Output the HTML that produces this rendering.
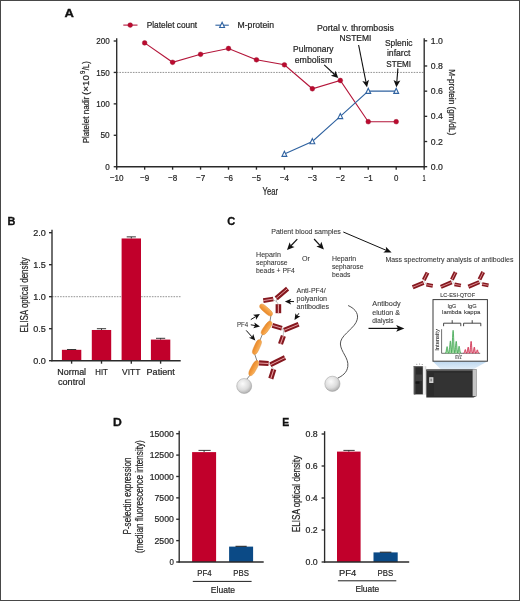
<!DOCTYPE html>
<html><head><meta charset="utf-8"><style>
html,body{margin:0;padding:0;background:#fff;}
body{width:520px;height:601px;overflow:hidden;}
svg{display:block;font-family:"Liberation Sans", sans-serif;will-change:transform;}
</style></head><body>
<svg width="520" height="601" viewBox="0 0 520 601">
<rect x="0" y="0" width="520" height="601" fill="#fff"/>
<text x="64.40" y="17.40" font-size="10.5" font-weight="bold" fill="#111" stroke="#111" stroke-width="0.3" textLength="9.40" lengthAdjust="spacingAndGlyphs" >A</text>
<line x1="116.70" y1="72.43" x2="424.20" y2="72.43" stroke="#777" stroke-width="0.8" stroke-dasharray="1.6 1.1"/>
<line x1="116.70" y1="38.30" x2="116.70" y2="167.30" stroke="#2a2a2a" stroke-width="1.35" />
<line x1="116.10" y1="166.70" x2="424.80" y2="166.70" stroke="#2a2a2a" stroke-width="1.35" />
<line x1="424.20" y1="38.30" x2="424.20" y2="167.30" stroke="#2a2a2a" stroke-width="1.35" />
<line x1="113.70" y1="166.72" x2="116.70" y2="166.72" stroke="#2a2a2a" stroke-width="1.35" />
<text x="105.20" y="169.82" font-size="9.4" font-weight="normal" fill="#262626" stroke="#262626" stroke-width="0.22" textLength="4.50" lengthAdjust="spacingAndGlyphs" >0</text>
<line x1="113.70" y1="135.29" x2="116.70" y2="135.29" stroke="#2a2a2a" stroke-width="1.35" />
<text x="100.50" y="138.39" font-size="9.4" font-weight="normal" fill="#262626" stroke="#262626" stroke-width="0.22" textLength="9.20" lengthAdjust="spacingAndGlyphs" >50</text>
<line x1="113.70" y1="103.86" x2="116.70" y2="103.86" stroke="#2a2a2a" stroke-width="1.35" />
<text x="96.20" y="106.96" font-size="9.4" font-weight="normal" fill="#262626" stroke="#262626" stroke-width="0.22" textLength="13.50" lengthAdjust="spacingAndGlyphs" >100</text>
<line x1="113.70" y1="72.43" x2="116.70" y2="72.43" stroke="#2a2a2a" stroke-width="1.35" />
<text x="96.20" y="75.53" font-size="9.4" font-weight="normal" fill="#262626" stroke="#262626" stroke-width="0.22" textLength="13.50" lengthAdjust="spacingAndGlyphs" >150</text>
<line x1="113.70" y1="41.00" x2="116.70" y2="41.00" stroke="#2a2a2a" stroke-width="1.35" />
<text x="96.20" y="44.10" font-size="9.4" font-weight="normal" fill="#262626" stroke="#262626" stroke-width="0.22" textLength="13.50" lengthAdjust="spacingAndGlyphs" >200</text>
<line x1="116.70" y1="166.70" x2="116.70" y2="169.70" stroke="#2a2a2a" stroke-width="1.35" />
<text x="109.80" y="181.00" font-size="9.4" font-weight="normal" fill="#262626" stroke="#262626" stroke-width="0.22" textLength="13.80" lengthAdjust="spacingAndGlyphs" >−10</text>
<line x1="144.65" y1="166.70" x2="144.65" y2="169.70" stroke="#2a2a2a" stroke-width="1.35" />
<text x="140.05" y="181.00" font-size="9.4" font-weight="normal" fill="#262626" stroke="#262626" stroke-width="0.22" textLength="9.20" lengthAdjust="spacingAndGlyphs" >−9</text>
<line x1="172.60" y1="166.70" x2="172.60" y2="169.70" stroke="#2a2a2a" stroke-width="1.35" />
<text x="168.00" y="181.00" font-size="9.4" font-weight="normal" fill="#262626" stroke="#262626" stroke-width="0.22" textLength="9.20" lengthAdjust="spacingAndGlyphs" >−8</text>
<line x1="200.55" y1="166.70" x2="200.55" y2="169.70" stroke="#2a2a2a" stroke-width="1.35" />
<text x="195.95" y="181.00" font-size="9.4" font-weight="normal" fill="#262626" stroke="#262626" stroke-width="0.22" textLength="9.20" lengthAdjust="spacingAndGlyphs" >−7</text>
<line x1="228.50" y1="166.70" x2="228.50" y2="169.70" stroke="#2a2a2a" stroke-width="1.35" />
<text x="223.90" y="181.00" font-size="9.4" font-weight="normal" fill="#262626" stroke="#262626" stroke-width="0.22" textLength="9.20" lengthAdjust="spacingAndGlyphs" >−6</text>
<line x1="256.45" y1="166.70" x2="256.45" y2="169.70" stroke="#2a2a2a" stroke-width="1.35" />
<text x="251.85" y="181.00" font-size="9.4" font-weight="normal" fill="#262626" stroke="#262626" stroke-width="0.22" textLength="9.20" lengthAdjust="spacingAndGlyphs" >−5</text>
<line x1="284.40" y1="166.70" x2="284.40" y2="169.70" stroke="#2a2a2a" stroke-width="1.35" />
<text x="279.80" y="181.00" font-size="9.4" font-weight="normal" fill="#262626" stroke="#262626" stroke-width="0.22" textLength="9.20" lengthAdjust="spacingAndGlyphs" >−4</text>
<line x1="312.35" y1="166.70" x2="312.35" y2="169.70" stroke="#2a2a2a" stroke-width="1.35" />
<text x="307.75" y="181.00" font-size="9.4" font-weight="normal" fill="#262626" stroke="#262626" stroke-width="0.22" textLength="9.20" lengthAdjust="spacingAndGlyphs" >−3</text>
<line x1="340.30" y1="166.70" x2="340.30" y2="169.70" stroke="#2a2a2a" stroke-width="1.35" />
<text x="335.70" y="181.00" font-size="9.4" font-weight="normal" fill="#262626" stroke="#262626" stroke-width="0.22" textLength="9.20" lengthAdjust="spacingAndGlyphs" >−2</text>
<line x1="368.25" y1="166.70" x2="368.25" y2="169.70" stroke="#2a2a2a" stroke-width="1.35" />
<text x="363.65" y="181.00" font-size="9.4" font-weight="normal" fill="#262626" stroke="#262626" stroke-width="0.22" textLength="9.20" lengthAdjust="spacingAndGlyphs" >−1</text>
<line x1="396.20" y1="166.70" x2="396.20" y2="169.70" stroke="#2a2a2a" stroke-width="1.35" />
<text x="394.00" y="181.00" font-size="9.4" font-weight="normal" fill="#262626" stroke="#262626" stroke-width="0.22" textLength="4.40" lengthAdjust="spacingAndGlyphs" >0</text>
<line x1="424.15" y1="166.70" x2="424.15" y2="169.70" stroke="#2a2a2a" stroke-width="1.35" />
<text x="422.55" y="181.00" font-size="9.4" font-weight="normal" fill="#262626" stroke="#262626" stroke-width="0.22" textLength="3.20" lengthAdjust="spacingAndGlyphs" >1</text>
<line x1="424.20" y1="166.70" x2="427.20" y2="166.70" stroke="#2a2a2a" stroke-width="1.35" />
<text x="430.80" y="169.80" font-size="9.4" font-weight="normal" fill="#262626" stroke="#262626" stroke-width="0.22" textLength="12.10" lengthAdjust="spacingAndGlyphs" >0.0</text>
<line x1="424.20" y1="141.52" x2="427.20" y2="141.52" stroke="#2a2a2a" stroke-width="1.35" />
<text x="430.80" y="144.62" font-size="9.4" font-weight="normal" fill="#262626" stroke="#262626" stroke-width="0.22" textLength="12.10" lengthAdjust="spacingAndGlyphs" >0.2</text>
<line x1="424.20" y1="116.34" x2="427.20" y2="116.34" stroke="#2a2a2a" stroke-width="1.35" />
<text x="430.80" y="119.44" font-size="9.4" font-weight="normal" fill="#262626" stroke="#262626" stroke-width="0.22" textLength="12.10" lengthAdjust="spacingAndGlyphs" >0.4</text>
<line x1="424.20" y1="91.16" x2="427.20" y2="91.16" stroke="#2a2a2a" stroke-width="1.35" />
<text x="430.80" y="94.26" font-size="9.4" font-weight="normal" fill="#262626" stroke="#262626" stroke-width="0.22" textLength="12.10" lengthAdjust="spacingAndGlyphs" >0.6</text>
<line x1="424.20" y1="65.98" x2="427.20" y2="65.98" stroke="#2a2a2a" stroke-width="1.35" />
<text x="430.80" y="69.08" font-size="9.4" font-weight="normal" fill="#262626" stroke="#262626" stroke-width="0.22" textLength="12.10" lengthAdjust="spacingAndGlyphs" >0.8</text>
<line x1="424.20" y1="40.80" x2="427.20" y2="40.80" stroke="#2a2a2a" stroke-width="1.35" />
<text x="430.80" y="43.90" font-size="9.4" font-weight="normal" fill="#262626" stroke="#262626" stroke-width="0.22" textLength="12.10" lengthAdjust="spacingAndGlyphs" >1.0</text>
<text x="262.60" y="194.80" font-size="10.4" font-weight="normal" fill="#262626" stroke="#262626" stroke-width="0.22" textLength="15.50" lengthAdjust="spacingAndGlyphs" >Year</text>
<g transform="translate(89.0,143.3) rotate(-90)" font-size="9.8" fill="#262626" stroke="#262626" stroke-width="0.22">
<text x="0" y="0" textLength="46.8" lengthAdjust="spacingAndGlyphs">Platelet nadir</text>
<text x="48.2" y="0" textLength="20.0" lengthAdjust="spacingAndGlyphs">(×10</text>
<text x="69.4" y="-3.9" font-size="6.6" textLength="3.4" lengthAdjust="spacingAndGlyphs">9</text>
<text x="73.0" y="0" textLength="9.0" lengthAdjust="spacingAndGlyphs">/L)</text>
</g>
<text transform="translate(449.20,102.20) rotate(90)" x="-33.00" y="0" font-size="9.5" fill="#262626" stroke="#262626" stroke-width="0.22" textLength="66.00" lengthAdjust="spacingAndGlyphs">M-protein (gm/dL)</text>
<line x1="123.30" y1="25.10" x2="137.50" y2="25.10" stroke="#b4163a" stroke-width="1.1" />
<circle cx="130.2" cy="25.1" r="2.4" fill="#bb0a2f" stroke="#950c28" stroke-width="0.4"/>
<text x="146.70" y="27.90" font-size="8.9" font-weight="normal" fill="#262626" stroke="#262626" stroke-width="0.22" textLength="50.50" lengthAdjust="spacingAndGlyphs" >Platelet count</text>
<line x1="215.40" y1="25.20" x2="228.80" y2="25.20" stroke="#2f62a0" stroke-width="1.1" />
<path d="M222.10,22.30 L224.55,27.45 L219.65,27.45 Z" fill="#fff" stroke="#2f62a0" stroke-width="1.1"/>
<text x="237.50" y="27.90" font-size="8.9" font-weight="normal" fill="#262626" stroke="#262626" stroke-width="0.22" textLength="36.50" lengthAdjust="spacingAndGlyphs" >M-protein</text>
<polyline points="144.65,42.89 172.60,62.31 200.55,54.33 228.50,48.48 256.45,59.80 284.40,64.82 312.35,88.77 340.30,80.48 368.25,121.71 396.20,121.71" fill="none" stroke="#b4163a" stroke-width="1.1"/>
<polyline points="284.40,154.11 312.35,141.52 340.30,116.34 368.25,91.16 396.20,91.16" fill="none" stroke="#2f62a0" stroke-width="1.1"/>
<circle cx="144.65" cy="42.89" r="2.4" fill="#bb0a2f" stroke="#950c28" stroke-width="0.4"/>
<circle cx="172.60" cy="62.31" r="2.4" fill="#bb0a2f" stroke="#950c28" stroke-width="0.4"/>
<circle cx="200.55" cy="54.33" r="2.4" fill="#bb0a2f" stroke="#950c28" stroke-width="0.4"/>
<circle cx="228.50" cy="48.48" r="2.4" fill="#bb0a2f" stroke="#950c28" stroke-width="0.4"/>
<circle cx="256.45" cy="59.80" r="2.4" fill="#bb0a2f" stroke="#950c28" stroke-width="0.4"/>
<circle cx="284.40" cy="64.82" r="2.4" fill="#bb0a2f" stroke="#950c28" stroke-width="0.4"/>
<circle cx="312.35" cy="88.77" r="2.4" fill="#bb0a2f" stroke="#950c28" stroke-width="0.4"/>
<circle cx="340.30" cy="80.48" r="2.4" fill="#bb0a2f" stroke="#950c28" stroke-width="0.4"/>
<circle cx="368.25" cy="121.71" r="2.4" fill="#bb0a2f" stroke="#950c28" stroke-width="0.4"/>
<circle cx="396.20" cy="121.71" r="2.4" fill="#bb0a2f" stroke="#950c28" stroke-width="0.4"/>
<path d="M284.40,151.21 L286.85,156.36 L281.95,156.36 Z" fill="#fff" stroke="#2f62a0" stroke-width="1.1"/>
<path d="M312.35,138.62 L314.80,143.77 L309.90,143.77 Z" fill="#fff" stroke="#2f62a0" stroke-width="1.1"/>
<path d="M340.30,113.44 L342.75,118.59 L337.85,118.59 Z" fill="#fff" stroke="#2f62a0" stroke-width="1.1"/>
<path d="M368.25,88.26 L370.70,93.41 L365.80,93.41 Z" fill="#fff" stroke="#2f62a0" stroke-width="1.1"/>
<path d="M396.20,88.26 L398.65,93.41 L393.75,93.41 Z" fill="#fff" stroke="#2f62a0" stroke-width="1.1"/>
<text x="316.90" y="31.00" font-size="9.0" font-weight="normal" fill="#262626" stroke="#262626" stroke-width="0.22" textLength="77.00" lengthAdjust="spacingAndGlyphs" >Portal v. thrombosis</text>
<text x="339.40" y="41.40" font-size="9.0" font-weight="normal" fill="#262626" stroke="#262626" stroke-width="0.22" textLength="32.00" lengthAdjust="spacingAndGlyphs" >NSTEMI</text>
<text x="384.90" y="45.50" font-size="9.0" font-weight="normal" fill="#262626" stroke="#262626" stroke-width="0.22" textLength="27.60" lengthAdjust="spacingAndGlyphs" >Splenic</text>
<text x="386.90" y="56.00" font-size="9.0" font-weight="normal" fill="#262626" stroke="#262626" stroke-width="0.22" textLength="23.60" lengthAdjust="spacingAndGlyphs" >infarct</text>
<text x="386.35" y="66.60" font-size="9.0" font-weight="normal" fill="#262626" stroke="#262626" stroke-width="0.22" textLength="24.70" lengthAdjust="spacingAndGlyphs" >STEMI</text>
<text x="293.10" y="52.10" font-size="9.0" font-weight="normal" fill="#262626" stroke="#262626" stroke-width="0.22" textLength="40.40" lengthAdjust="spacingAndGlyphs" >Pulmonary</text>
<text x="294.75" y="62.50" font-size="9.0" font-weight="normal" fill="#262626" stroke="#262626" stroke-width="0.22" textLength="37.50" lengthAdjust="spacingAndGlyphs" >embolism</text>
<line x1="324.20" y1="64.80" x2="334.31" y2="74.27" stroke="#111" stroke-width="1.1" />
<path d="M338.30,78.00 L330.87,75.70 L334.31,74.27 L335.51,70.73 Z" fill="#111"/>
<line x1="358.60" y1="45.00" x2="365.94" y2="81.94" stroke="#111" stroke-width="1.1" />
<path d="M367.00,87.30 L362.30,81.10 L365.94,81.94 L368.97,79.77 Z" fill="#111"/>
<line x1="397.90" y1="68.40" x2="396.83" y2="81.86" stroke="#111" stroke-width="1.1" />
<path d="M396.40,87.30 L393.56,80.05 L396.83,81.86 L400.34,80.59 Z" fill="#111"/>
<text x="7.60" y="224.70" font-size="10.5" font-weight="bold" fill="#111" stroke="#111" stroke-width="0.3" textLength="7.90" lengthAdjust="spacingAndGlyphs" >B</text>
<line x1="52.00" y1="296.70" x2="180.70" y2="296.70" stroke="#777" stroke-width="0.8" stroke-dasharray="1.6 1.1"/>
<rect x="61.90" y="349.82" width="19.40" height="10.88" fill="#c1002b" />
<line x1="71.60" y1="349.50" x2="71.60" y2="349.82" stroke="#222" stroke-width="0.9" />
<line x1="67.00" y1="349.50" x2="76.20" y2="349.50" stroke="#222" stroke-width="0.9" />
<rect x="91.80" y="329.98" width="19.40" height="30.72" fill="#c1002b" />
<line x1="101.50" y1="328.70" x2="101.50" y2="329.98" stroke="#222" stroke-width="0.9" />
<line x1="96.90" y1="328.70" x2="106.10" y2="328.70" stroke="#222" stroke-width="0.9" />
<rect x="121.60" y="238.46" width="19.40" height="122.24" fill="#c1002b" />
<line x1="131.30" y1="236.86" x2="131.30" y2="238.46" stroke="#222" stroke-width="0.9" />
<line x1="126.70" y1="236.86" x2="135.90" y2="236.86" stroke="#222" stroke-width="0.9" />
<rect x="150.90" y="339.58" width="19.40" height="21.12" fill="#c1002b" />
<line x1="160.60" y1="338.30" x2="160.60" y2="339.58" stroke="#222" stroke-width="0.9" />
<line x1="156.00" y1="338.30" x2="165.20" y2="338.30" stroke="#222" stroke-width="0.9" />
<line x1="52.00" y1="229.80" x2="52.00" y2="361.30" stroke="#2a2a2a" stroke-width="1.35" />
<line x1="51.40" y1="360.70" x2="180.70" y2="360.70" stroke="#2a2a2a" stroke-width="1.35" />
<line x1="49.00" y1="360.70" x2="52.00" y2="360.70" stroke="#2a2a2a" stroke-width="1.35" />
<text x="33.30" y="363.80" font-size="9.0" font-weight="normal" fill="#262626" stroke="#262626" stroke-width="0.22" textLength="12.60" lengthAdjust="spacingAndGlyphs" >0.0</text>
<line x1="49.00" y1="328.70" x2="52.00" y2="328.70" stroke="#2a2a2a" stroke-width="1.35" />
<text x="33.30" y="331.80" font-size="9.0" font-weight="normal" fill="#262626" stroke="#262626" stroke-width="0.22" textLength="12.60" lengthAdjust="spacingAndGlyphs" >0.5</text>
<line x1="49.00" y1="296.70" x2="52.00" y2="296.70" stroke="#2a2a2a" stroke-width="1.35" />
<text x="33.30" y="299.80" font-size="9.0" font-weight="normal" fill="#262626" stroke="#262626" stroke-width="0.22" textLength="12.60" lengthAdjust="spacingAndGlyphs" >1.0</text>
<line x1="49.00" y1="264.70" x2="52.00" y2="264.70" stroke="#2a2a2a" stroke-width="1.35" />
<text x="33.30" y="267.80" font-size="9.0" font-weight="normal" fill="#262626" stroke="#262626" stroke-width="0.22" textLength="12.60" lengthAdjust="spacingAndGlyphs" >1.5</text>
<line x1="49.00" y1="232.70" x2="52.00" y2="232.70" stroke="#2a2a2a" stroke-width="1.35" />
<text x="33.30" y="235.80" font-size="9.0" font-weight="normal" fill="#262626" stroke="#262626" stroke-width="0.22" textLength="12.60" lengthAdjust="spacingAndGlyphs" >2.0</text>
<line x1="71.60" y1="360.70" x2="71.60" y2="363.70" stroke="#2a2a2a" stroke-width="1.35" />
<line x1="101.50" y1="360.70" x2="101.50" y2="363.70" stroke="#2a2a2a" stroke-width="1.35" />
<line x1="131.30" y1="360.70" x2="131.30" y2="363.70" stroke="#2a2a2a" stroke-width="1.35" />
<line x1="160.60" y1="360.70" x2="160.60" y2="363.70" stroke="#2a2a2a" stroke-width="1.35" />
<text transform="translate(28.10,295.00) rotate(-90)" x="-37.50" y="0" font-size="10.2" fill="#262626" stroke="#262626" stroke-width="0.22" textLength="75.00" lengthAdjust="spacingAndGlyphs">ELISA optical density</text>
<text x="57.30" y="374.60" font-size="8.8" font-weight="normal" fill="#262626" stroke="#262626" stroke-width="0.22" textLength="28.80" lengthAdjust="spacingAndGlyphs" >Normal</text>
<text x="58.00" y="384.50" font-size="8.8" font-weight="normal" fill="#262626" stroke="#262626" stroke-width="0.22" textLength="27.30" lengthAdjust="spacingAndGlyphs" >control</text>
<text x="95.30" y="374.60" font-size="8.8" font-weight="normal" fill="#262626" stroke="#262626" stroke-width="0.22" textLength="12.50" lengthAdjust="spacingAndGlyphs" >HIT</text>
<text x="122.10" y="374.60" font-size="8.8" font-weight="normal" fill="#262626" stroke="#262626" stroke-width="0.22" textLength="18.30" lengthAdjust="spacingAndGlyphs" >VITT</text>
<text x="146.60" y="374.60" font-size="8.8" font-weight="normal" fill="#262626" stroke="#262626" stroke-width="0.22" textLength="28.10" lengthAdjust="spacingAndGlyphs" >Patient</text>
<text x="113.00" y="425.70" font-size="10.5" font-weight="bold" fill="#111" stroke="#111" stroke-width="0.3" textLength="8.80" lengthAdjust="spacingAndGlyphs" >D</text>
<rect x="192.10" y="452.11" width="24.00" height="109.89" fill="#c1002b" />
<line x1="204.10" y1="450.40" x2="204.10" y2="452.11" stroke="#222" stroke-width="0.9" />
<line x1="198.50" y1="450.40" x2="210.70" y2="450.40" stroke="#222" stroke-width="0.9" />
<rect x="229.10" y="546.61" width="24.00" height="15.39" fill="#0b4a86" />
<line x1="235.50" y1="546.30" x2="246.70" y2="546.30" stroke="#1a1a1a" stroke-width="1.0" />
<line x1="179.20" y1="430.80" x2="179.20" y2="562.60" stroke="#2a2a2a" stroke-width="1.35" />
<line x1="178.60" y1="562.00" x2="263.70" y2="562.00" stroke="#2a2a2a" stroke-width="1.35" />
<line x1="176.20" y1="562.00" x2="179.20" y2="562.00" stroke="#2a2a2a" stroke-width="1.35" />
<text x="169.40" y="565.10" font-size="9.0" font-weight="normal" fill="#262626" stroke="#262626" stroke-width="0.22" textLength="4.40" lengthAdjust="spacingAndGlyphs" >0</text>
<line x1="176.20" y1="540.62" x2="179.20" y2="540.62" stroke="#2a2a2a" stroke-width="1.35" />
<text x="154.50" y="543.72" font-size="9.0" font-weight="normal" fill="#262626" stroke="#262626" stroke-width="0.22" textLength="19.30" lengthAdjust="spacingAndGlyphs" >2500</text>
<line x1="176.20" y1="519.24" x2="179.20" y2="519.24" stroke="#2a2a2a" stroke-width="1.35" />
<text x="154.50" y="522.34" font-size="9.0" font-weight="normal" fill="#262626" stroke="#262626" stroke-width="0.22" textLength="19.30" lengthAdjust="spacingAndGlyphs" >5000</text>
<line x1="176.20" y1="497.86" x2="179.20" y2="497.86" stroke="#2a2a2a" stroke-width="1.35" />
<text x="154.50" y="500.96" font-size="9.0" font-weight="normal" fill="#262626" stroke="#262626" stroke-width="0.22" textLength="19.30" lengthAdjust="spacingAndGlyphs" >7500</text>
<line x1="176.20" y1="476.48" x2="179.20" y2="476.48" stroke="#2a2a2a" stroke-width="1.35" />
<text x="149.70" y="479.58" font-size="9.0" font-weight="normal" fill="#262626" stroke="#262626" stroke-width="0.22" textLength="24.10" lengthAdjust="spacingAndGlyphs" >10000</text>
<line x1="176.20" y1="455.10" x2="179.20" y2="455.10" stroke="#2a2a2a" stroke-width="1.35" />
<text x="149.70" y="458.20" font-size="9.0" font-weight="normal" fill="#262626" stroke="#262626" stroke-width="0.22" textLength="24.10" lengthAdjust="spacingAndGlyphs" >12500</text>
<line x1="176.20" y1="433.72" x2="179.20" y2="433.72" stroke="#2a2a2a" stroke-width="1.35" />
<text x="149.70" y="436.82" font-size="9.0" font-weight="normal" fill="#262626" stroke="#262626" stroke-width="0.22" textLength="24.10" lengthAdjust="spacingAndGlyphs" >15000</text>
<text x="197.30" y="576.00" font-size="9.3" font-weight="normal" fill="#262626" stroke="#262626" stroke-width="0.22" textLength="14.30" lengthAdjust="spacingAndGlyphs" >PF4</text>
<text x="233.30" y="576.00" font-size="9.3" font-weight="normal" fill="#262626" stroke="#262626" stroke-width="0.22" textLength="15.60" lengthAdjust="spacingAndGlyphs" >PBS</text>
<line x1="192.80" y1="581.40" x2="251.60" y2="581.40" stroke="#1f1f1f" stroke-width="1.0" />
<text x="210.80" y="592.50" font-size="9.3" font-weight="normal" fill="#262626" stroke="#262626" stroke-width="0.22" textLength="24.30" lengthAdjust="spacingAndGlyphs" >Eluate</text>
<text transform="translate(130.60,496.00) rotate(-90)" x="-38.50" y="0" font-size="10.4" fill="#262626" stroke="#262626" stroke-width="0.22" textLength="77.00" lengthAdjust="spacingAndGlyphs">P-selectin expression</text>
<text transform="translate(143.30,496.60) rotate(-90)" x="-56.35" y="0" font-size="10.4" fill="#262626" stroke="#262626" stroke-width="0.22" textLength="112.70" lengthAdjust="spacingAndGlyphs">(median fluorescence intensity)</text>
<text x="282.20" y="425.80" font-size="10.5" font-weight="bold" fill="#111" stroke="#111" stroke-width="0.3" textLength="7.00" lengthAdjust="spacingAndGlyphs" >E</text>
<rect x="337.00" y="451.60" width="23.60" height="110.40" fill="#c1002b" />
<line x1="348.80" y1="450.40" x2="348.80" y2="451.60" stroke="#222" stroke-width="0.9" />
<line x1="343.40" y1="450.40" x2="354.70" y2="450.40" stroke="#222" stroke-width="0.9" />
<rect x="373.50" y="552.40" width="24.20" height="9.60" fill="#0b4a86" />
<line x1="379.80" y1="552.20" x2="391.40" y2="552.20" stroke="#1a1a1a" stroke-width="1.0" />
<line x1="324.60" y1="431.20" x2="324.60" y2="562.60" stroke="#2a2a2a" stroke-width="1.35" />
<line x1="324.00" y1="562.00" x2="409.20" y2="562.00" stroke="#2a2a2a" stroke-width="1.35" />
<line x1="321.60" y1="562.00" x2="324.60" y2="562.00" stroke="#2a2a2a" stroke-width="1.35" />
<text x="305.50" y="565.10" font-size="9.0" font-weight="normal" fill="#262626" stroke="#262626" stroke-width="0.22" textLength="12.20" lengthAdjust="spacingAndGlyphs" >0.0</text>
<line x1="321.60" y1="530.00" x2="324.60" y2="530.00" stroke="#2a2a2a" stroke-width="1.35" />
<text x="305.50" y="533.10" font-size="9.0" font-weight="normal" fill="#262626" stroke="#262626" stroke-width="0.22" textLength="12.20" lengthAdjust="spacingAndGlyphs" >0.2</text>
<line x1="321.60" y1="498.00" x2="324.60" y2="498.00" stroke="#2a2a2a" stroke-width="1.35" />
<text x="305.50" y="501.10" font-size="9.0" font-weight="normal" fill="#262626" stroke="#262626" stroke-width="0.22" textLength="12.20" lengthAdjust="spacingAndGlyphs" >0.4</text>
<line x1="321.60" y1="466.00" x2="324.60" y2="466.00" stroke="#2a2a2a" stroke-width="1.35" />
<text x="305.50" y="469.10" font-size="9.0" font-weight="normal" fill="#262626" stroke="#262626" stroke-width="0.22" textLength="12.20" lengthAdjust="spacingAndGlyphs" >0.6</text>
<line x1="321.60" y1="434.00" x2="324.60" y2="434.00" stroke="#2a2a2a" stroke-width="1.35" />
<text x="305.50" y="437.10" font-size="9.0" font-weight="normal" fill="#262626" stroke="#262626" stroke-width="0.22" textLength="12.20" lengthAdjust="spacingAndGlyphs" >0.8</text>
<text x="339.00" y="576.00" font-size="9.3" font-weight="normal" fill="#262626" stroke="#262626" stroke-width="0.22" textLength="17.30" lengthAdjust="spacingAndGlyphs" >PF4</text>
<text x="377.50" y="576.00" font-size="9.3" font-weight="normal" fill="#262626" stroke="#262626" stroke-width="0.22" textLength="15.60" lengthAdjust="spacingAndGlyphs" >PBS</text>
<line x1="337.90" y1="580.80" x2="396.30" y2="580.80" stroke="#1f1f1f" stroke-width="1.0" />
<text x="355.40" y="591.60" font-size="9.3" font-weight="normal" fill="#262626" stroke="#262626" stroke-width="0.22" textLength="23.80" lengthAdjust="spacingAndGlyphs" >Eluate</text>
<text transform="translate(299.70,494.00) rotate(-90)" x="-38.25" y="0" font-size="10.2" fill="#262626" stroke="#262626" stroke-width="0.22" textLength="76.50" lengthAdjust="spacingAndGlyphs">ELISA optical density</text>
<text x="227.20" y="224.90" font-size="10.5" font-weight="bold" fill="#111" stroke="#111" stroke-width="0.3" textLength="8.00" lengthAdjust="spacingAndGlyphs" >C</text>
<text x="271.20" y="233.60" font-size="6.8" font-weight="normal" fill="#383838" stroke="#383838" stroke-width="0.08" textLength="69.70" lengthAdjust="spacingAndGlyphs" >Patient blood samples</text>
<line x1="297.30" y1="239.10" x2="290.98" y2="245.72" stroke="#111" stroke-width="1.2" />
<path d="M287.00,249.90 L289.65,242.20 L290.98,245.72 L294.57,246.89 Z" fill="#111"/>
<line x1="314.10" y1="239.00" x2="319.98" y2="245.36" stroke="#111" stroke-width="1.2" />
<path d="M323.90,249.60 L316.38,246.47 L319.98,245.36 L321.37,241.86 Z" fill="#111"/>
<line x1="343.30" y1="232.00" x2="386.15" y2="250.27" stroke="#111" stroke-width="1.0" />
<path d="M391.60,252.60 L383.35,252.56 L386.15,250.27 L385.86,246.67 Z" fill="#111"/>
<text x="256.00" y="256.70" font-size="6.8" font-weight="normal" fill="#383838" stroke="#383838" stroke-width="0.08" textLength="24.90" lengthAdjust="spacingAndGlyphs" >Heparin</text>
<text x="256.00" y="264.90" font-size="6.8" font-weight="normal" fill="#383838" stroke="#383838" stroke-width="0.08" textLength="31.60" lengthAdjust="spacingAndGlyphs" >sepharose</text>
<text x="256.00" y="273.00" font-size="6.8" font-weight="normal" fill="#383838" stroke="#383838" stroke-width="0.08" textLength="38.90" lengthAdjust="spacingAndGlyphs" >beads + PF4</text>
<text x="302.00" y="261.20" font-size="6.8" font-weight="normal" fill="#383838" stroke="#383838" stroke-width="0.08" textLength="7.90" lengthAdjust="spacingAndGlyphs" >Or</text>
<text x="331.90" y="261.00" font-size="6.8" font-weight="normal" fill="#383838" stroke="#383838" stroke-width="0.08" textLength="24.20" lengthAdjust="spacingAndGlyphs" >Heparin</text>
<text x="331.90" y="269.10" font-size="6.8" font-weight="normal" fill="#383838" stroke="#383838" stroke-width="0.08" textLength="31.50" lengthAdjust="spacingAndGlyphs" >sepharose</text>
<text x="331.90" y="277.30" font-size="6.8" font-weight="normal" fill="#383838" stroke="#383838" stroke-width="0.08" textLength="18.40" lengthAdjust="spacingAndGlyphs" >beads</text>
<text x="385.40" y="261.50" font-size="6.8" font-weight="normal" fill="#383838" stroke="#383838" stroke-width="0.08" textLength="128.00" lengthAdjust="spacingAndGlyphs" >Mass spectrometry analysis of antibodies</text>
<text x="296.50" y="292.60" font-size="6.8" font-weight="normal" fill="#383838" stroke="#383838" stroke-width="0.08" textLength="29.20" lengthAdjust="spacingAndGlyphs" >Anti-PF4/</text>
<text x="296.50" y="300.80" font-size="6.8" font-weight="normal" fill="#383838" stroke="#383838" stroke-width="0.08" textLength="30.60" lengthAdjust="spacingAndGlyphs" >polyanion</text>
<text x="296.60" y="308.90" font-size="6.8" font-weight="normal" fill="#383838" stroke="#383838" stroke-width="0.08" textLength="32.40" lengthAdjust="spacingAndGlyphs" >antibodies</text>
<text x="237.00" y="326.90" font-size="6.8" font-weight="normal" fill="#383838" stroke="#383838" stroke-width="0.08" textLength="11.30" lengthAdjust="spacingAndGlyphs" >PF4</text>
<text x="372.30" y="306.40" font-size="6.8" font-weight="normal" fill="#383838" stroke="#383838" stroke-width="0.08" textLength="28.30" lengthAdjust="spacingAndGlyphs" >Antibody</text>
<text x="372.30" y="314.60" font-size="6.8" font-weight="normal" fill="#383838" stroke="#383838" stroke-width="0.08" textLength="27.80" lengthAdjust="spacingAndGlyphs" >elution &amp;</text>
<text x="372.30" y="322.50" font-size="6.8" font-weight="normal" fill="#383838" stroke="#383838" stroke-width="0.08" textLength="21.30" lengthAdjust="spacingAndGlyphs" >dialysis</text>
<line x1="368.50" y1="328.40" x2="398.00" y2="328.40" stroke="#111" stroke-width="1.2" />
<path d="M404.40,328.40 L396.20,331.80 L398.00,328.40 L396.20,325.00 Z" fill="#111"/>
<defs><radialGradient id="bead" cx="0.4" cy="0.35" r="0.7"><stop offset="0" stop-color="#fbfbfb"/><stop offset="0.6" stop-color="#dcdcdc"/><stop offset="1" stop-color="#a9a9a9"/></radialGradient><linearGradient id="pf4" x1="0" y1="0" x2="0" y2="1"><stop offset="0" stop-color="#f7b463"/><stop offset="0.5" stop-color="#f39c3e"/><stop offset="1" stop-color="#e8882c"/></linearGradient><linearGradient id="beam" x1="0" y1="0" x2="0" y2="1"><stop offset="0" stop-color="#bcd7ef"/><stop offset="1" stop-color="#e4eff9"/></linearGradient></defs>
<line x1="271.00" y1="315.00" x2="269.80" y2="322.50" stroke="#5a5a5a" stroke-width="0.75"/>
<line x1="254.50" y1="353.50" x2="257.20" y2="361.50" stroke="#5a5a5a" stroke-width="0.75"/>
<line x1="262.60" y1="333.80" x2="259.80" y2="340.60" stroke="#5a5a5a" stroke-width="0.75"/>
<line x1="250.20" y1="375.00" x2="246.50" y2="379.50" stroke="#5a5a5a" stroke-width="0.75"/>
<rect x="-7.98" y="-2.75" width="15.96" height="5.50" rx="5.11" ry="2.75" fill="url(#pf4)" stroke="#e08a2e" stroke-width="0.4" transform="translate(266.10,310.00) rotate(41.26)"/>
<rect x="-7.95" y="-2.75" width="15.89" height="5.50" rx="5.08" ry="2.75" fill="url(#pf4)" stroke="#e08a2e" stroke-width="0.4" transform="translate(266.60,328.00) rotate(124.74)"/>
<rect x="-7.90" y="-2.75" width="15.80" height="5.50" rx="5.05" ry="2.75" fill="url(#pf4)" stroke="#e08a2e" stroke-width="0.4" transform="translate(256.95,347.05) rotate(114.00)"/>
<rect x="-8.50" y="-2.75" width="17.00" height="5.50" rx="5.44" ry="2.75" fill="url(#pf4)" stroke="#e08a2e" stroke-width="0.4" transform="translate(253.80,368.10) rotate(118.78)"/>
<circle cx="244.2" cy="386.0" r="7.5" fill="url(#bead)" stroke="#9a9a9a" stroke-width="0.5"/>
<line x1="273.50" y1="300.00" x2="276.50" y2="301.50" stroke="#888" stroke-width="0.5"/>
<line x1="276.50" y1="301.50" x2="278.20" y2="304.20" stroke="#888" stroke-width="0.5"/>
<line x1="276.50" y1="301.50" x2="276.60" y2="298.50" stroke="#888" stroke-width="0.5"/>
<path d="M277.76,300.13 L289.16,290.43 L286.04,286.77 L274.64,296.47 Z" fill="#85181f"/>
<line x1="276.20" y1="298.30" x2="287.60" y2="288.60" stroke="#e9a1a5" stroke-width="0.96"/>
<path d="M263.68,302.97 L273.68,301.37 L272.92,296.63 L262.92,298.23 Z" fill="#85181f"/>
<line x1="263.30" y1="300.60" x2="273.30" y2="299.00" stroke="#e9a1a5" stroke-width="0.96"/>
<path d="M275.60,304.20 L275.60,313.20 L281.20,313.20 L281.20,304.20 Z" fill="#85181f"/>
<line x1="278.40" y1="304.20" x2="278.40" y2="313.20" stroke="#e9a1a5" stroke-width="1.12"/>
<line x1="281.90" y1="328.00" x2="283.50" y2="331.00" stroke="#888" stroke-width="0.5"/>
<line x1="283.50" y1="331.00" x2="283.30" y2="335.80" stroke="#888" stroke-width="0.5"/>
<path d="M271.72,327.70 L281.22,330.50 L282.58,325.90 L273.08,323.10 Z" fill="#85181f"/>
<line x1="272.40" y1="325.40" x2="281.90" y2="328.20" stroke="#e9a1a5" stroke-width="0.96"/>
<path d="M284.91,332.52 L299.51,326.52 L297.69,322.08 L283.09,328.08 Z" fill="#85181f"/>
<line x1="284.00" y1="330.30" x2="298.60" y2="324.30" stroke="#e9a1a5" stroke-width="0.96"/>
<path d="M280.95,334.93 L278.05,343.13 L282.95,344.87 L285.85,336.67 Z" fill="#85181f"/>
<line x1="283.40" y1="335.80" x2="280.50" y2="344.00" stroke="#e9a1a5" stroke-width="1.04"/>
<line x1="268.60" y1="363.50" x2="270.80" y2="365.50" stroke="#888" stroke-width="0.5"/>
<line x1="270.80" y1="365.50" x2="273.60" y2="369.20" stroke="#888" stroke-width="0.5"/>
<path d="M258.84,365.49 L268.44,366.09 L268.76,360.91 L259.16,360.31 Z" fill="#85181f"/>
<line x1="259.00" y1="362.90" x2="268.60" y2="363.50" stroke="#e9a1a5" stroke-width="1.04"/>
<path d="M271.51,367.04 L286.11,359.84 L283.89,355.36 L269.29,362.56 Z" fill="#85181f"/>
<line x1="270.40" y1="364.80" x2="285.00" y2="357.60" stroke="#e9a1a5" stroke-width="1.00"/>
<path d="M271.32,368.41 L268.32,377.81 L273.28,379.39 L276.28,369.99 Z" fill="#85181f"/>
<line x1="273.80" y1="369.20" x2="270.80" y2="378.60" stroke="#e9a1a5" stroke-width="1.04"/>
<line x1="250.80" y1="319.60" x2="255.71" y2="316.58" stroke="#111" stroke-width="1.0"/>
<path d="M259.90,314.00 L256.05,319.77 L255.71,316.58 L253.01,314.83 Z" fill="#111"/>
<line x1="250.80" y1="324.80" x2="255.16" y2="325.56" stroke="#111" stroke-width="1.0"/>
<path d="M260.00,326.40 L253.30,328.18 L255.16,325.56 L254.29,322.46 Z" fill="#111"/>
<line x1="246.20" y1="330.40" x2="252.03" y2="336.93" stroke="#111" stroke-width="1.0"/>
<path d="M255.30,340.60 L248.94,337.83 L252.03,336.93 L253.27,333.97 Z" fill="#111"/>
<line x1="294.00" y1="301.60" x2="289.81" y2="301.51" stroke="#111" stroke-width="1.0"/>
<path d="M284.90,301.40 L291.26,298.64 L289.81,301.51 L291.13,304.44 Z" fill="#111"/>
<line x1="298.80" y1="313.30" x2="297.15" y2="315.86" stroke="#111" stroke-width="1.0"/>
<path d="M294.50,320.00 L295.46,313.13 L297.15,315.86 L300.34,316.26 Z" fill="#111"/>
<path d="M348.1,305.5 C356,309 360,315 356,322.5 C352,330 340,336 340.4,344 C340.8,352 349,358 347.8,366.5 C347,373 342,376 337.5,378.3" fill="none" stroke="#4a4a4a" stroke-width="0.95"/>
<circle cx="332.4" cy="383.8" r="7.6" fill="url(#bead)" stroke="#9a9a9a" stroke-width="0.5"/>
<line x1="424.50" y1="282.00" x2="423.90" y2="280.00" stroke="#999" stroke-width="0.4"/>
<line x1="424.50" y1="282.00" x2="426.30" y2="284.60" stroke="#999" stroke-width="0.4"/>
<path d="M425.59,280.89 L429.29,273.49 L425.71,271.71 L422.01,279.11 Z" fill="#85181f"/>
<line x1="423.80" y1="280.00" x2="427.50" y2="272.60" stroke="#e9a1a5" stroke-width="0.80"/>
<path d="M422.78,280.77 L411.88,285.37 L413.52,289.23 L424.42,284.63 Z" fill="#85181f"/>
<line x1="423.60" y1="282.70" x2="412.70" y2="287.30" stroke="#e9a1a5" stroke-width="0.84"/>
<path d="M426.05,286.57 L432.45,287.77 L433.15,284.03 L426.75,282.83 Z" fill="#85181f"/>
<line x1="426.40" y1="284.70" x2="432.80" y2="285.90" stroke="#e9a1a5" stroke-width="0.76"/>
<line x1="452.60" y1="281.60" x2="452.00" y2="279.60" stroke="#999" stroke-width="0.4"/>
<line x1="452.60" y1="281.60" x2="454.40" y2="284.20" stroke="#999" stroke-width="0.4"/>
<path d="M453.69,280.49 L457.39,273.09 L453.81,271.31 L450.11,278.71 Z" fill="#85181f"/>
<line x1="451.90" y1="279.60" x2="455.60" y2="272.20" stroke="#e9a1a5" stroke-width="0.80"/>
<path d="M450.88,280.37 L439.98,284.97 L441.62,288.83 L452.52,284.23 Z" fill="#85181f"/>
<line x1="451.70" y1="282.30" x2="440.80" y2="286.90" stroke="#e9a1a5" stroke-width="0.84"/>
<path d="M454.15,286.17 L460.55,287.37 L461.25,283.63 L454.85,282.43 Z" fill="#85181f"/>
<line x1="454.50" y1="284.30" x2="460.90" y2="285.50" stroke="#e9a1a5" stroke-width="0.76"/>
<line x1="480.20" y1="281.40" x2="479.60" y2="279.40" stroke="#999" stroke-width="0.4"/>
<line x1="480.20" y1="281.40" x2="482.00" y2="284.00" stroke="#999" stroke-width="0.4"/>
<path d="M481.29,280.29 L484.99,272.89 L481.41,271.11 L477.71,278.51 Z" fill="#85181f"/>
<line x1="479.50" y1="279.40" x2="483.20" y2="272.00" stroke="#e9a1a5" stroke-width="0.80"/>
<path d="M478.48,280.17 L467.58,284.77 L469.22,288.63 L480.12,284.03 Z" fill="#85181f"/>
<line x1="479.30" y1="282.10" x2="468.40" y2="286.70" stroke="#e9a1a5" stroke-width="0.84"/>
<path d="M481.75,285.97 L488.15,287.17 L488.85,283.43 L482.45,282.23 Z" fill="#85181f"/>
<line x1="482.10" y1="284.10" x2="488.50" y2="285.30" stroke="#e9a1a5" stroke-width="0.76"/>
<path d="M432.6,361.2 L487.6,361.2 L472.4,369.8 L441.4,369.8 Z" fill="url(#beam)"/>
<rect x="433.0" y="299.6" width="54.4" height="61.6" fill="#fff" stroke="#3a3a3a" stroke-width="1"/>
<path d="M443.6,326.2 V323.2 H460.8 V326.2 M452.2,323.2 V320.2" fill="none" stroke="#333" stroke-width="0.9"/>
<path d="M463.6,326.2 V323.2 H480.8 V326.2 M472.2,323.2 V320.2" fill="none" stroke="#333" stroke-width="0.9"/>
<path d="M441.6,329.2 V353.3 H480.2" fill="none" stroke="#333" stroke-width="0.7"/>
<path d="M445.10,353.3 C446.40,353.3 446.50,346.60 447.10,346.60 C447.70,346.60 447.80,353.3 449.10,353.3" fill="#9ed79f" stroke="#2e9e42" stroke-width="0.7"/>
<path d="M448.40,353.3 C449.70,353.3 449.80,340.90 450.40,340.90 C451.00,340.90 451.10,353.3 452.40,353.3" fill="#9ed79f" stroke="#2e9e42" stroke-width="0.7"/>
<path d="M451.10,353.3 C452.40,353.3 452.50,330.30 453.10,330.30 C453.70,330.30 453.80,353.3 455.10,353.3" fill="#9ed79f" stroke="#2e9e42" stroke-width="0.7"/>
<path d="M454.20,353.3 C455.50,353.3 455.60,341.30 456.20,341.30 C456.80,341.30 456.90,353.3 458.20,353.3" fill="#9ed79f" stroke="#2e9e42" stroke-width="0.7"/>
<path d="M457.10,353.3 C458.40,353.3 458.50,346.20 459.10,346.20 C459.70,346.20 459.80,353.3 461.10,353.3" fill="#9ed79f" stroke="#2e9e42" stroke-width="0.7"/>
<path d="M463.50,353.3 C464.67,353.3 464.76,349.50 465.30,349.50 C465.84,349.50 465.93,353.3 467.10,353.3" fill="#ec9aac" stroke="#c8163a" stroke-width="0.7"/>
<path d="M466.40,353.3 C467.57,353.3 467.66,347.10 468.20,347.10 C468.74,347.10 468.83,353.3 470.00,353.3" fill="#ec9aac" stroke="#c8163a" stroke-width="0.7"/>
<path d="M469.30,353.3 C470.47,353.3 470.56,341.30 471.10,341.30 C471.64,341.30 471.73,353.3 472.90,353.3" fill="#ec9aac" stroke="#c8163a" stroke-width="0.7"/>
<path d="M472.50,353.3 C473.67,353.3 473.76,347.10 474.30,347.10 C474.84,347.10 474.93,353.3 476.10,353.3" fill="#ec9aac" stroke="#c8163a" stroke-width="0.7"/>
<path d="M475.50,353.3 C476.67,353.3 476.76,349.80 477.30,349.80 C477.84,349.80 477.93,353.3 479.10,353.3" fill="#ec9aac" stroke="#c8163a" stroke-width="0.7"/>
<rect x="413.8" y="366.0" width="9.2" height="28.4" fill="#2b2b2b"/>
<rect x="413.8" y="366.0" width="1.6" height="28.4" fill="#555"/>
<rect x="413.8" y="366.0" width="9.2" height="1.2" fill="#666"/>
<rect x="415.4" y="374.5" width="6.6" height="6.5" fill="#3e3e3e"/>
<rect x="415.5" y="381.5" width="4" height="2.2" fill="#151515"/>
<rect x="422.8" y="366.2" width="3.5" height="28.4" fill="#dadada"/>
<rect x="423.4" y="366.2" width="1.4" height="28.4" fill="#f4f4f4"/>
<circle cx="416.8" cy="364.2" r="0.5" fill="#777"/><circle cx="419.6" cy="364.0" r="0.5" fill="#777"/><circle cx="422.2" cy="364.4" r="0.5" fill="#777"/>
<path d="M426.3,369.6 L476.8,369.6 L476.8,396.0 L473.5,397.4 L426.3,397.4 Z" fill="#2c2c2c"/>
<rect x="426.3" y="369.4" width="46.5" height="1.6" fill="#5a5a5a"/>
<rect x="472.6" y="369.8" width="4.2" height="26.4" fill="#c4c4c4"/>
<rect x="434.0" y="372.8" width="37.5" height="23.2" fill="#333"/>
<rect x="429.2" y="377.2" width="4.2" height="5.8" fill="#d4d4d4"/>
<rect x="430.3" y="378.6" width="1.8" height="2.8" fill="#8a8a8a"/>
<text x="440.30" y="297.00" font-size="5.8" font-weight="normal" fill="#383838" stroke="#383838" stroke-width="0.1" textLength="34.70" lengthAdjust="spacingAndGlyphs" >LC-ESI-QTOF</text>
<text x="447.40" y="307.60" font-size="6.0" font-weight="normal" fill="#383838" stroke="#383838" stroke-width="0.1" textLength="8.70" lengthAdjust="spacingAndGlyphs" >IgG</text>
<text x="442.10" y="314.30" font-size="6.0" font-weight="normal" fill="#383838" stroke="#383838" stroke-width="0.1" textLength="19.40" lengthAdjust="spacingAndGlyphs" >lambda</text>
<text x="467.50" y="307.60" font-size="6.0" font-weight="normal" fill="#383838" stroke="#383838" stroke-width="0.1" textLength="9.20" lengthAdjust="spacingAndGlyphs" >IgG</text>
<text x="464.00" y="314.30" font-size="6.0" font-weight="normal" fill="#383838" stroke="#383838" stroke-width="0.1" textLength="16.30" lengthAdjust="spacingAndGlyphs" >kappa</text>
<text transform="translate(438.90,340.00) rotate(-90)" x="-10.80" y="0" font-size="5.9" fill="#383838" stroke="#383838" stroke-width="0.1" textLength="21.60" lengthAdjust="spacingAndGlyphs">Intensity</text>
<text x="455.30" y="358.70" font-size="6.4" font-weight="normal" fill="#383838" stroke="#383838" stroke-width="0.1" textLength="6.40" lengthAdjust="spacingAndGlyphs" font-style="italic">m/z</text>
<rect x="0.5" y="0.5" width="519" height="600" fill="none" stroke="#474747" stroke-width="1"/>
</svg>
</body></html>
